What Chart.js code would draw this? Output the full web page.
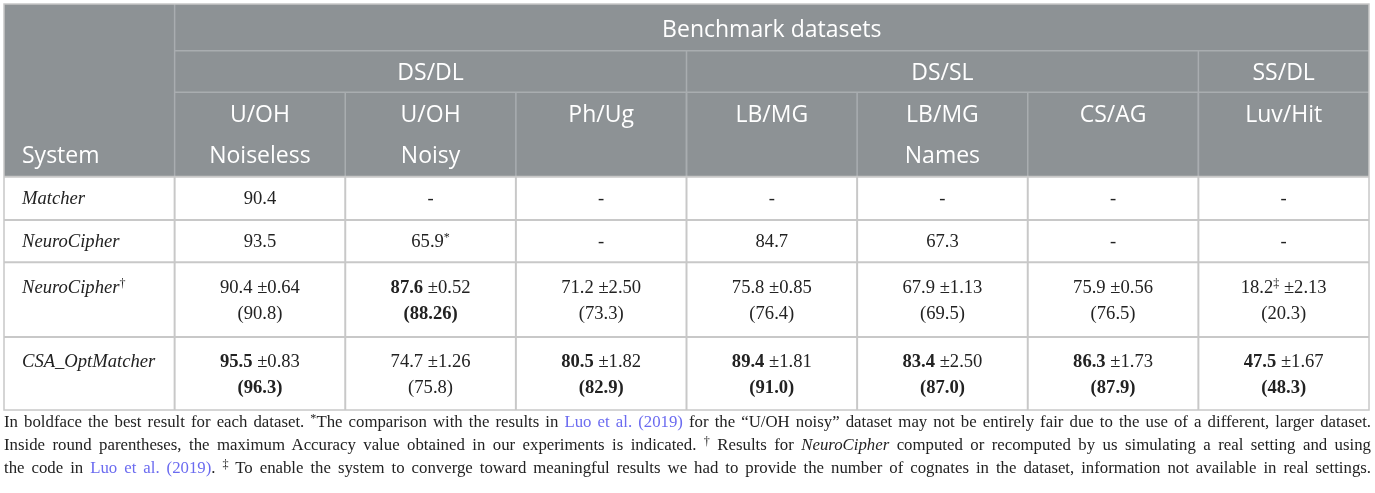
<!DOCTYPE html>
<html><head><meta charset="utf-8">
<script src="https://cdn.jsdelivr.net/npm/chart.js@4.4.0/dist/chart.umd.min.js"></script>
<style>
html,body{margin:0;padding:0;background:#fff;}
#wrap{position:absolute;left:0;top:0;width:1375px;height:412px;}
#foot{position:absolute;left:4px;top:410px;width:1367px;font-family:"Liberation Serif",serif;font-size:16.8px;line-height:23px;color:#222;}
#foot .ln{white-space:nowrap;}
#foot a{color:#6b6bf0;text-decoration:none;}
#foot sup{font-size:0.72em;line-height:0;vertical-align:0.42em;}
</style></head><body>
<div id="wrap"><canvas id="c"></canvas></div>
<div id="foot">
<div><span class="ln">In boldface the best result for each dataset. <sup>*</sup>The comparison with the results in <a>Luo et al. (2019)</a> for the “U/OH noisy” dataset may not be entirely fair due to the use of a different, larger dataset.</span></div>
<div><span class="ln">Inside round parentheses, the maximum Accuracy value obtained in our experiments is indicated. <sup>†</sup> Results for <i>NeuroCipher</i> computed or recomputed by us simulating a real setting and using</span></div>
<div><span class="ln">the code in <a>Luo et al. (2019)</a>. <sup>‡</sup> To enable the system to converge toward meaningful results we had to provide the number of cognates in the dataset, information not available in real settings.</span></div>
</div>
<script>
// ---- data ----
const headerTitle = 'Benchmark datasets';
const systemHeader = 'System';
const datasetGroups = ['DS/DL', 'DS/SL', 'SS/DL'];
const groupSpans = [3, 3, 1];
const datasetLine1 = ['U/OH', 'U/OH', 'Ph/Ug', 'LB/MG', 'LB/MG', 'CS/AG', 'Luv/Hit'];
const datasetLine2 = ['Noiseless', 'Noisy', '', '', 'Names', '', ''];
const systems = ['Matcher', 'NeuroCipher', 'NeuroCipher', 'CSA_OptMatcher'];
const systemMarks = ['', '', '†', ''];
const matcherAcc = [90.4, null, null, null, null, null, null];
const neuroCipherReported = [93.5, 65.9, null, 84.7, 67.3, null, null];
const neuroCipherReportedNotes = ['', '*', '', '', '', '', ''];
const neuroCipherMean = [90.4, 87.6, 71.2, 75.8, 67.9, 75.9, 18.2];
const neuroCipherSd = [0.64, 0.52, 2.50, 0.85, 1.13, 0.56, 2.13];
const neuroCipherMax = [90.8, 88.26, 73.3, 76.4, 69.5, 76.5, 20.3];
const neuroCipherMeanNotes = ['', '', '', '', '', '', '‡'];
const csaMean = [95.5, 74.7, 80.5, 89.4, 83.4, 86.3, 47.5];
const csaSd = [0.83, 1.26, 1.82, 1.81, 2.50, 1.73, 1.67];
const csaMax = [96.3, 75.8, 82.9, 91.0, 87.0, 87.9, 48.3];

// ---- layout (row edges in y-scale units) ----
const rowEdges = [0, 46.7, 88.3, 172.7, 216, 258.3, 333, 406];
const nCols = 8;
const bodyRowIndex = [3, 4, 5, 6];

const fmtAcc = v => (Math.abs(Math.round(v * 10) - v * 10) < 1e-6) ? v.toFixed(1) : v.toFixed(2);
const allRows = [matcherAcc, neuroCipherReported, neuroCipherMean, csaMean];
const colBest = datasetLine1.map((_, c) => Math.max(...allRows.map(r => r[c] == null ? -Infinity : r[c])));

const SERIF = '"Liberation Serif", "Times New Roman", serif';
const SANS = '"Open Sans", "Lato", sans-serif';
const F = {
  reg: '18.6px ' + SERIF, bold: '700 18.6px ' + SERIF, ital: 'italic 18.6px ' + SERIF,
  sup: '12px ' + SERIF, head: '23px ' + SANS
};

function cellLines(r, c) {
  if (r === 0 || r === 1) {
    const arr = r === 0 ? matcherAcc : neuroCipherReported;
    const v = arr[c];
    if (v == null) return [[{ t: '-', f: F.reg }]];
    const segs = [{ t: fmtAcc(v), f: v === colBest[c] ? F.bold : F.reg }];
    if (r === 1 && neuroCipherReportedNotes[c]) segs.push({ t: neuroCipherReportedNotes[c], f: F.sup, rise: 6 });
    return [segs];
  }
  const mean = r === 2 ? neuroCipherMean : csaMean;
  const sd = r === 2 ? neuroCipherSd : csaSd;
  const mx = r === 2 ? neuroCipherMax : csaMax;
  const best = mean[c] === colBest[c];
  const l1 = [{ t: fmtAcc(mean[c]), f: best ? F.bold : F.reg }];
  if (r === 2 && neuroCipherMeanNotes[c]) l1.push({ t: neuroCipherMeanNotes[c], f: F.sup, rise: 6 });
  l1.push({ t: ' ±' + sd[c].toFixed(2), f: F.reg });
  const l2 = [{ t: '(' + fmtAcc(mx[c]) + ')', f: best ? F.bold : F.reg }];
  return [l1, l2];
}

function drawRich(ctx, segs, x, y, align) {
  let w = 0;
  segs.forEach(s => { ctx.font = s.f; s.w = ctx.measureText(s.t).width; w += s.w; });
  let sx = align === 'left' ? x : x - w / 2;
  segs.forEach(s => { ctx.font = s.f; ctx.fillText(s.t, sx, y - (s.rise || 0)); sx += s.w; });
}

const tablePlugin = {
  id: 'tablePlugin',
  afterDraw(chart) {
    const ctx = chart.ctx, xs = chart.scales.x, ys = chart.scales.y;
    const X = v => xs.getPixelForValue(v), Y = v => ys.getPixelForValue(v);
    ctx.save();
    ctx.textBaseline = 'alphabetic';
    // header background
    ctx.fillStyle = '#8d9295';
    ctx.fillRect(X(0), Y(rowEdges[0]), X(nCols) - X(0), Y(rowEdges[3]) - Y(rowEdges[0]));
    // header inner lines
    ctx.strokeStyle = '#a9adb0';
    ctx.lineWidth = 1.5;
    const seg = (x1, y1, x2, y2) => { ctx.beginPath(); ctx.moveTo(x1, y1); ctx.lineTo(x2, y2); ctx.stroke(); };
    seg(X(1), Y(rowEdges[1]), X(nCols), Y(rowEdges[1]));
    seg(X(1), Y(rowEdges[2]), X(nCols), Y(rowEdges[2]));
    seg(X(1), Y(rowEdges[0]), X(1), Y(rowEdges[3]));
    let gc = 1;
    groupSpans.forEach((sp, i) => { if (i > 0) seg(X(gc), Y(rowEdges[1]), X(gc), Y(rowEdges[3])); gc += sp; });
    for (let c = 2; c < nCols; c++) seg(X(c), Y(rowEdges[2]), X(c), Y(rowEdges[3]));
    // body grid
    ctx.strokeStyle = '#c8c8c8';
    ctx.lineWidth = 2;
    for (let i = 3; i < rowEdges.length - 1; i++) seg(X(0), Y(rowEdges[i]), X(nCols), Y(rowEdges[i]));
    for (let c = 1; c < nCols; c++) seg(X(c), Y(rowEdges[3]), X(c), Y(rowEdges[7]));
    // outer border
    ctx.strokeStyle = '#c8c8c8';
    ctx.lineWidth = 1.5;
    ctx.strokeRect(X(0), Y(rowEdges[0]), X(nCols) - X(0), Y(rowEdges[7]) - Y(rowEdges[0]));

    // header text
    ctx.fillStyle = '#ffffff';
    const hmid = i => (Y(rowEdges[i]) + Y(rowEdges[i + 1])) / 2;
    const capOff = 8.3;
    drawRich(ctx, [{ t: headerTitle, f: F.head }], (X(1) + X(nCols)) / 2, hmid(0) + capOff + 1, 'center');
    gc = 1;
    datasetGroups.forEach((g, i) => {
      drawRich(ctx, [{ t: g, f: F.head }], (X(gc) + X(gc + groupSpans[i])) / 2, hmid(1) + capOff, 'center');
      gc += groupSpans[i];
    });
    const h1 = Y(rowEdges[2]) + 29.5, h2 = Y(rowEdges[2]) + 70.5;
    datasetLine1.forEach((t, c) => {
      drawRich(ctx, [{ t, f: F.head }], X(c + 1.5), h1, 'center');
      if (datasetLine2[c]) drawRich(ctx, [{ t: datasetLine2[c], f: F.head }], X(c + 1.5), h2, 'center');
    });
    drawRich(ctx, [{ t: systemHeader, f: F.head }], X(0) + 18, h2, 'left');

    // body text from dataset elements
    ctx.fillStyle = '#222222';
    chart.data.datasets.forEach((ds, r) => {
      const meta = chart.getDatasetMeta(r);
      const twoLine = r >= 2;
      const lineY = y0 => twoLine ? [y0 - 13 + 6, y0 + 13 + 6] : [y0 + 6];
      const y0 = meta.data[0].y;
      const ly = lineY(y0)[0];
      const lab = [{ t: systems[r], f: F.ital }];
      if (systemMarks[r]) lab.push({ t: systemMarks[r], f: F.sup, rise: 6 });
      drawRich(ctx, lab, X(0) + 18, ly, 'left');
      meta.data.forEach((el, c) => {
        const lines = cellLines(r, c);
        const ys2 = lineY(el.y);
        lines.forEach((segs, k) => drawRich(ctx, segs, el.x, ys2[k], 'center'));
      });
    });
    ctx.restore();
  }
};

const datasets = systems.map((s, r) => {
  const ri = bodyRowIndex[r];
  const mid = (rowEdges[ri] + rowEdges[ri + 1]) / 2;
  return {
    label: s + systemMarks[r],
    data: datasetLine1.map((_, c) => ({ x: c + 1.5, y: mid })),
    pointRadius: 0, pointHoverRadius: 0, showLine: false
  };
});

new Chart(document.getElementById('c'), {
  type: 'scatter',
  data: { datasets },
  options: {
    responsive: true, maintainAspectRatio: false, animation: false, events: [],
    layout: { padding: { left: 4, right: 6, top: 4, bottom: 2 }, autoPadding: false },
    plugins: { legend: { display: false }, tooltip: { enabled: false } },
    scales: {
      x: { type: 'linear', min: 0, max: nCols, display: false },
      y: { type: 'linear', min: 0, max: rowEdges[rowEdges.length - 1], reverse: true, display: false }
    }
  },
  plugins: [tablePlugin]
});

// justify footer lines to full width
document.querySelectorAll('#foot .ln').forEach(el => {
  const spaces = (el.textContent.match(/ /g) || []).length;
  const w = el.getBoundingClientRect().width;
  el.style.wordSpacing = ((1367 - w) / spaces) + 'px';
});
</script>
</body></html>
